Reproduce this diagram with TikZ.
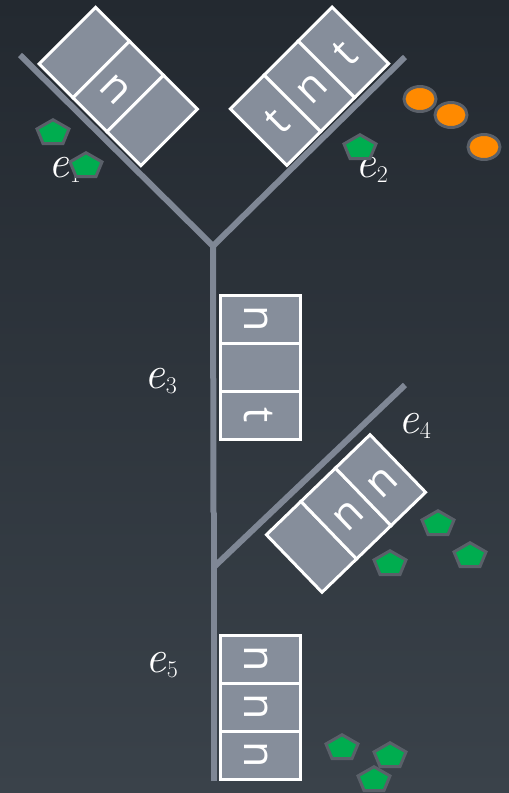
\documentclass[tikz,border=0pt]{standalone}
\usepackage{fontspec}
\newfontfamily\cellfont{Open Sans}
\usetikzlibrary{shapes.geometric}
\definecolor{bgtop}{HTML}{232930}
\definecolor{bgmid}{HTML}{282E35}
\definecolor{bgbot}{HTML}{3A424A}
\definecolor{edgecol}{HTML}{7F8795}
\definecolor{cellfill}{HTML}{868E9B}
\definecolor{markborder}{HTML}{5A6069}
\definecolor{markgreen}{HTML}{00AD4F}
\definecolor{markorange}{HTML}{FF8A00}
\tikzset{
 edgeline/.style={draw=edgecol, line width=6pt},
 cellbox/.style={draw=white, line width=3pt, fill=cellfill, minimum width=48pt, minimum height=80pt, inner sep=0pt, text=white, font=\cellfont\fontsize{43}{43}\selectfont, text height=31pt, text depth=0pt},
 pent/.style={regular polygon, regular polygon sides=5, minimum size=26.5pt, inner sep=0pt, xscale=1.27, draw=markborder, line width=3pt, fill=markgreen},
 dotmark/.style={ellipse, minimum width=32pt, minimum height=25pt, inner sep=0pt, draw=markborder, line width=3pt, fill=markorange},
 elab/.style={anchor=base west, inner sep=0pt, text=white, font=\fontsize{46}{46}\selectfont}
}
\newcommand\cellstack[6]{%
 \begin{scope}[shift={#2}, rotate=#3]
  \node[cellbox, rotate=#3] (#1a) at (-48,0) {#4};
  \node[cellbox, rotate=#3] (#1b) at (0,0) {#5};
  \node[cellbox, rotate=#3] (#1c) at (48,0) {#6};
 \end{scope}}
\newcommand\elabtext[1]{{\itshape e}\kern1pt\raisebox{-5pt}{\fontsize{24}{24}\selectfont #1}}
\begin{document}
\begin{tikzpicture}[x=1pt,y=-1pt]
\useasboundingbox (0,0) rectangle (509,793);
\shade[top color=bgtop, middle color=bgmid, bottom color=bgbot] (0,0) rectangle (509,793);
% edges
\coordinate (la) at (20,55);
\coordinate (ra) at (405,57);
\coordinate (jn) at (213,246);
\coordinate (tm) at (213.5,513);
\coordinate (tb) at (213.5,781);
\coordinate (fa) at (405,385);
\coordinate (fb) at (215,566);
\draw[edgeline] (la) -- (jn) -- (ra);
\draw[edgeline] (jn) -- (tm);
\draw[edgeline] (tm) -- (tb);
\draw[edgeline] (fa) -- (fb);
% cell stacks
\cellstack{ea}{(118.25,86.5)}{-45}{}{n}{}
\cellstack{eb}{(309.5,86.25)}{45}{t}{n}{t}
\cellstack{ec}{(260,367)}{-90}{n}{}{t}
\cellstack{ed}{(346,513.5)}{44}{}{n}{n}
\cellstack{ee}{(260,707)}{-90}{n}{n}{n}
% labels
\node[elab] (l1) at (48,177) {\elabtext{1}};
\node[elab] (l2) at (355,177) {\elabtext{2}};
\node[elab] (l3) at (144,388) {\elabtext{3}};
\node[elab] (l4) at (398,433) {\elabtext{4}};
\node[elab] (l5) at (145,672) {\elabtext{5}};
% markers
\node[pent] (p1) at (53,133) {};
\node[pent] (p2) at (86,166) {};
\node[pent] (p3) at (360,148) {};
\node[pent] (p4) at (438,524) {};
\node[pent] (p5) at (470,556) {};
\node[pent] (p6) at (390,564) {};
\node[pent] (p7) at (342,748) {};
\node[pent] (p8) at (390,756) {};
\node[pent] (p9) at (374,780) {};
\node[dotmark] (o1) at (420,99) {};
\node[dotmark] (o2) at (451,115) {};
\node[dotmark] (o3) at (484,147) {};
\end{tikzpicture}
\end{document}
